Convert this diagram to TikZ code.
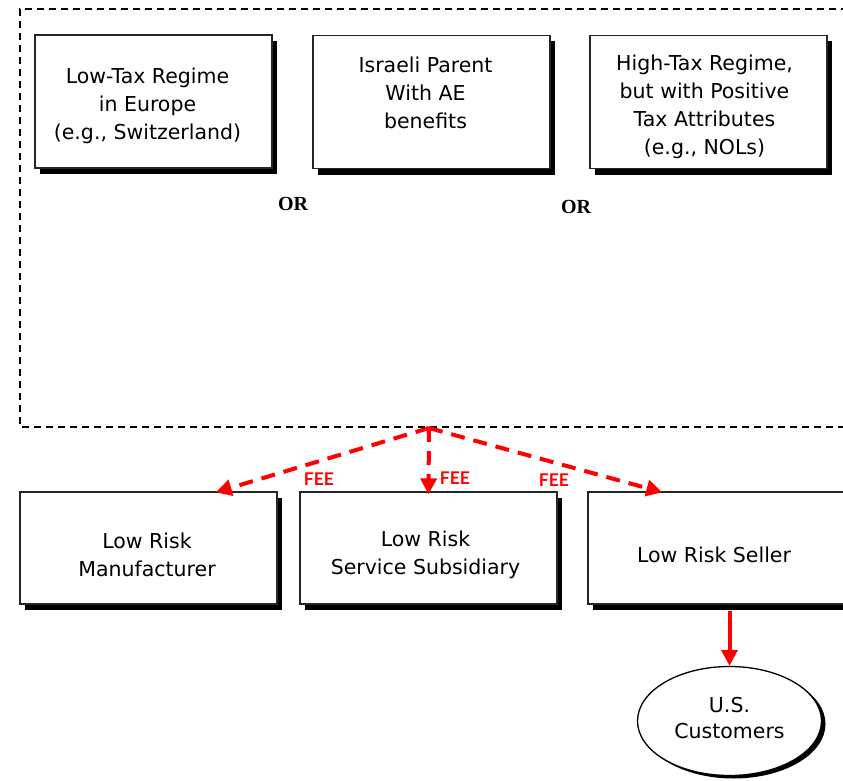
\documentclass[tikz,border=0pt]{standalone}
\usepackage{fontspec}
\setmainfont{DejaVu Sans}
\newfontfamily\orfont{Liberation Serif}
\newfontfamily\feefont{Lato}
\usetikzlibrary{arrows.meta,shadows,calc,shapes.geometric}

\tikzset{
  boxnode/.style={draw=black!85, line width=1.3pt, fill=white,
    minimum width=237pt, minimum height=133pt,
    drop shadow={shadow xshift=5pt, shadow yshift=-6pt, fill=black, opacity=1}},
  lowbox/.style={boxnode, minimum width=257pt, minimum height=112pt},
  boxtext/.style={align=center, inner sep=0pt, font=\fontsize{20.5}{28}\selectfont},
  custnode/.style={ellipse, draw=black, line width=1.3pt, fill=white,
    minimum width=184pt, minimum height=109pt, inner sep=0pt,
    drop shadow={shadow xshift=4pt, shadow yshift=-3pt, fill=black, opacity=1}},
  custtext/.style={boxtext, font=\fontsize{20.5}{26}\selectfont},
  frameline/.style={draw=black, line width=1.3pt, dash pattern=on 7pt off 5pt},
  feearrow/.style={draw=red, line width=4pt, dash pattern=on 14pt off 9pt,
    -{Triangle[length=16pt,width=16pt]}},
  salearrow/.style={draw=red, line width=4pt, -{Triangle[length=16pt,width=16pt]}},
  orlabel/.style={font=\orfont\bfseries\fontsize{20}{22}\selectfont},
  feelabel/.style={text=red, font=\feefont\bfseries\fontsize{17.5}{18}\selectfont}
}

\begin{document}
\begin{tikzpicture}[x=1pt, y=-1pt]
  \useasboundingbox (0,0) rectangle (843,781);
  \clip (0,0) rectangle (843,781);

  % dashed grouping frame, open to the right
  \draw[frameline] (860,9) -- (20,9) -- (20,427) -- (860,427);

  % candidate principal entities
  \node[boxnode] (lowtax) at (153.5,101.5) {};
  \node[boxtext] (lowtax-t) at ([xshift=-6pt,yshift=-4pt]lowtax.center)
    {Low-Tax Regime\\in Europe\\(e.g., Switzerland)};
  \node[boxnode] (parent) at (431.5,102) {};
  \node[boxtext] (parent-t) at ([xshift=-6pt,yshift=9pt]parent.center)
    {Israeli Parent\\With AE\\benefits};
  \node[boxnode] (hightax) at (708.5,102) {};
  \node[boxtext] (hightax-t) at ([xshift=-4pt,yshift=-5pt]hightax.center)
    {High-Tax Regime,\\but with Positive\\Tax Attributes\\(e.g., NOLs)};

  \node[orlabel] (or1) at (293,204) {OR};
  \node[orlabel] (or2) at (576,207) {OR};

  % low risk operating companies
  \node[lowbox] (mfr) at (148.5,548) {};
  \node[boxtext] (mfr-t) at ([xshift=-1.5pt,yshift=-7pt]mfr.center) {Low Risk\\Manufacturer};
  \node[lowbox] (svc) at (428.5,548) {};
  \node[boxtext] (svc-t) at ([xshift=-3pt,yshift=-7pt]svc.center) {Low Risk\\Service Subsidiary};
  \node[lowbox] (seller) at (716.5,548) {};
  \node[boxtext] (seller-t) at ([xshift=-2.5pt,yshift=-7pt]seller.center) {Low Risk Seller};

  \node[custnode] (cust) at (729.5,721) {};
  \node[custtext] (cust-t) at ([yshift=2.5pt]cust.center) {U.S.\\Customers};

  % fee flows from the principal
  \coordinate (apex) at (429,428);
  \draw[feearrow] (apex) -- ([xshift=-62pt,yshift=-1pt]mfr.north east);
  \draw[feearrow] (apex) -- ([yshift=-3pt]svc.north);
  \draw[feearrow] (apex) -- ([xshift=75pt,yshift=-1pt]seller.north west);

  \node[feelabel] (fee1) at (319,479) {FEE};
  \node[feelabel] (fee2) at (455,478) {FEE};
  \node[feelabel] (fee3) at (554,480) {FEE};

  % sales to customers
  \draw[salearrow] ([yshift=-6pt]seller.south -| cust.north) -- (cust.north);
\end{tikzpicture}
\end{document}
